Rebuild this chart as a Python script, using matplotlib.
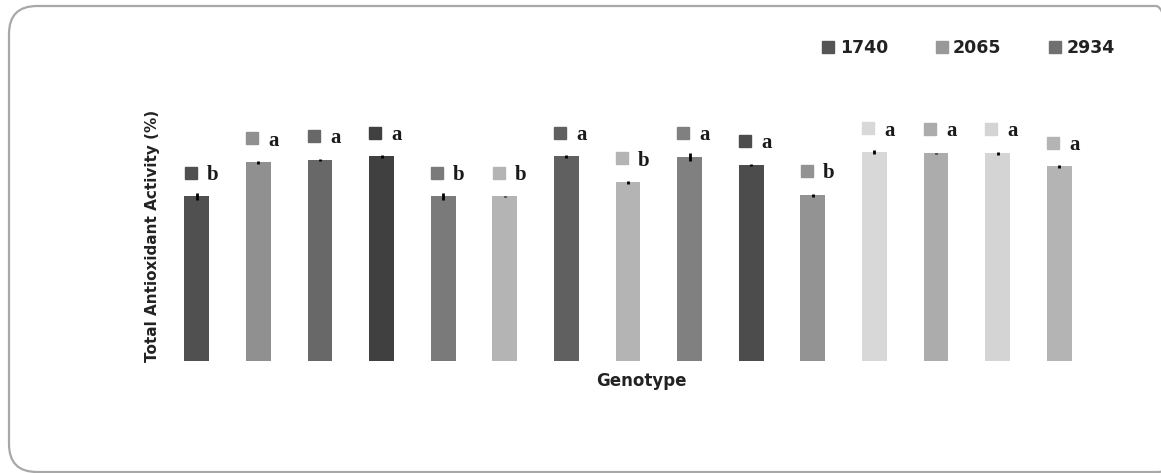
import matplotlib
matplotlib.use("Agg")
import matplotlib.pyplot as plt
from matplotlib.patches import FancyBboxPatch
from matplotlib.lines import Line2D

# Werte der Balken (Gesamte antioxidative Aktivität in %)
genotypes = ["G1", "G2", "G3", "G4", "G5", "G6", "G7", "G8", "G9", "G10",
             "G11", "G12", "G13", "G14", "G15"]
values = [65.6, 79.2, 80.2, 81.6, 65.6, 65.6, 81.6, 71.2, 81.2, 78.2,
          66.0, 83.2, 82.8, 82.8, 77.6]
errors = [1.2, 0.5, 0.4, 0.4, 1.2, 0.3, 0.4, 0.5, 1.6, 0.5,
          0.5, 0.8, 0.3, 0.5, 0.8]
letters = ["b", "a", "a", "a", "b", "b", "a", "b", "a", "a",
           "b", "a", "a", "a", "a"]
colors = ["#505050", "#909090", "#686868", "#404040", "#7a7a7a", "#b4b4b4",
          "#606060", "#b4b4b4", "#808080", "#4c4c4c", "#939393", "#d8d8d8",
          "#acacac", "#d4d4d4", "#b4b4b4"]

legend_labels = ["1740", "2065", "2934"]
legend_colors = ["#555555", "#999999", "#707070"]

fig = plt.figure(figsize=(11.61, 4.73), dpi=100)

# abgerundeter Rahmen (Pixelkoordinaten)
frame = FancyBboxPatch((9, 1), 1175, 466,
                       boxstyle="round,pad=0,rounding_size=28",
                       transform=None, facecolor="none",
                       edgecolor="#a8a8a8", linewidth=1.6, zorder=5)
fig.patches.append(frame)

ax = fig.add_axes([166 / 1161, 1 - 360.5 / 473, 924 / 1161, 250 / 473])
ax.patch.set_alpha(0)

x = list(range(len(values)))
ax.bar(x, values, width=0.4, color=colors, zorder=2)
ax.errorbar(x, values, yerr=errors, fmt="none", ecolor="black",
            elinewidth=2, capsize=0, zorder=3)

for i in x:
    ax.plot(i - 0.1, values[i] + 9.6, marker="s", markersize=8,
            color=colors[i], linestyle="none", clip_on=False)
    ax.text(i + 0.25, values[i] + 8.8, letters[i], fontsize=15,
            family="Liberation Serif", fontweight="bold",
            ha="center", va="center", color="#1a1a1a")

ax.set_xlim(-0.5, 14.5)
ax.set_ylim(0, 100)
ax.set_xticks([])
ax.set_yticks([])
for s in ax.spines.values():
    s.set_visible(False)

ax.set_xlabel("Genotype", fontsize=12, fontweight="bold", color="#222222")
ax.xaxis.set_label_coords(0.514, -0.045)
ax.set_ylabel("Total Antioxidant Activity (%)", fontsize=11, fontweight="bold",
              labelpad=4, color="#222222")

handles = [Line2D([], [], marker="s", markersize=8, color=c, linestyle="none")
           for c in legend_colors]
fig.legend(handles, legend_labels, loc="center", ncol=3,
           bbox_to_anchor=(969 / 1161, 1 - 48 / 473), frameon=False,
           prop={"size": 12.5, "weight": "bold"}, handlelength=0.6,
           handletextpad=0.35, columnspacing=2.8, labelcolor="#222222")

fig.savefig("out.png", dpi=100)
